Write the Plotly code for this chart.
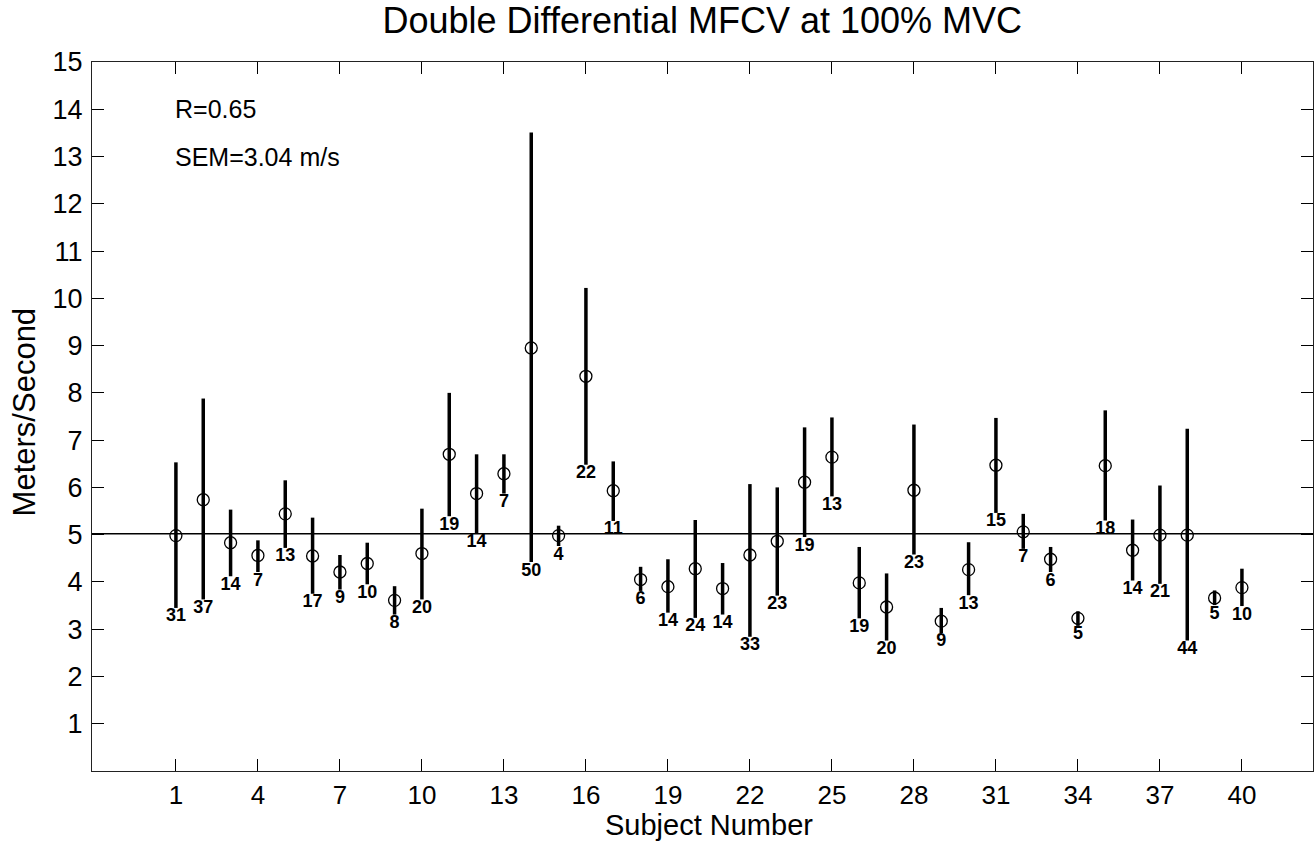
import numpy as np
import plotly.graph_objects as go

# ---------------- data ----------------
subjects = list(range(1, 41))
mean_mfcv = [4.98, 5.74, 4.83, 4.56, 5.44, 4.55, 4.21, 4.39, 3.61, 4.60,
             6.70, 5.87, 6.29, 8.95, 4.98, 8.35, 5.93, 4.05, 3.90, 4.28,
             3.86, 4.57, 4.86, 6.11, 6.64, 3.98, 3.47, 5.94, 3.17, 4.26,
             6.47, 5.06, 4.48, 3.23, 6.46, 4.67, 4.99, 4.99, 3.66, 3.88]
upper_mfcv = [6.53, 7.88, 5.53, 4.88, 6.15, 5.36, 4.57, 4.83, 3.91, 5.55,
              8.00, 6.70, 6.70, 13.51, 5.19, 10.22, 6.55, 4.32, 4.48, 5.31,
              4.40, 6.07, 6.00, 7.27, 7.48, 4.74, 4.18, 7.33, 3.45, 4.84,
              7.47, 5.44, 4.74, 3.38, 7.63, 5.32, 6.04, 7.24, 3.82, 4.28]
lower_mfcv = [3.45, 3.63, 4.12, 4.21, 4.72, 3.75, 3.84, 3.95, 3.31, 3.63,
              5.39, 5.03, 5.87, 4.42, 4.76, 6.48, 5.29, 3.81, 3.35, 3.24,
              3.31, 2.84, 3.71, 4.95, 5.81, 3.23, 2.76, 4.58, 2.92, 3.72,
              5.46, 4.70, 4.21, 3.07, 5.30, 4.03, 3.96, 2.76, 3.51, 3.49]
n_trials = [31, 37, 14, 7, 13, 17, 9, 10, 8, 20,
            19, 14, 7, 50, 4, 22, 11, 6, 14, 24,
            14, 33, 23, 19, 13, 19, 20, 23, 9, 13,
            15, 7, 6, 5, 18, 14, 21, 44, 5, 10]
overall_mean = 5.02
x_ticks = list(range(1, 41, 3))
y_ticks = list(range(1, 16))
title_text = "Double Differential MFCV at 100% MVC"
x_label = "Subject Number"
y_label = "Meters/Second"
stat_lines = ["R=0.65", "SEM=3.04 m/s"]
stat_y = [14, 13]

# ---------------- figure ----------------
FONT = "Liberation Sans, Arial, Helvetica, sans-serif"
mean_arr = np.array(mean_mfcv)
err_plus = np.array(upper_mfcv) - mean_arr
err_minus = mean_arr - np.array(lower_mfcv)

fig = go.Figure()
fig.add_trace(go.Scatter(
    x=subjects, y=mean_mfcv, mode="markers",
    marker=dict(symbol="circle-open", size=12, color="black",
                line=dict(width=1.3, color="black")),
    error_y=dict(type="data", symmetric=False, array=err_plus,
                 arrayminus=err_minus, color="black", thickness=3.5, width=0),
    showlegend=False, hoverinfo="skip"))

fig.add_trace(go.Scatter(
    x=subjects, y=lower_mfcv, mode="text",
    text=[str(n) for n in n_trials], textposition="bottom center",
    textfont=dict(family=FONT, size=18, color="black", weight="bold"),
    showlegend=False, hoverinfo="skip"))

fig.add_shape(type="line", xref="paper", x0=0, x1=1, yref="y",
              y0=overall_mean, y1=overall_mean,
              line=dict(color="black", width=1.5), layer="below")

for txt, yy in zip(stat_lines, stat_y):
    fig.add_annotation(x=0.9, y=yy, xref="x", yref="y", text=txt,
                       showarrow=False, xanchor="left", yanchor="middle",
                       font=dict(family=FONT, size=25, color="black"))

fig.add_annotation(x=0.505, y=-0.0765, xref="paper", yref="paper",
                   text=x_label, showarrow=False, xanchor="center",
                   yanchor="middle", font=dict(family=FONT, size=29, color="black"))
fig.add_annotation(x=-0.055, y=0.507, xref="paper", yref="paper",
                   text=y_label, showarrow=False, textangle=-90,
                   xanchor="center", yanchor="middle",
                   font=dict(family=FONT, size=31, color="black"))

fig.update_layout(
    width=1314, height=847,
    margin=dict(l=92, r=1, t=62, b=76),
    paper_bgcolor="white", plot_bgcolor="white",
    title=dict(text=title_text, x=0.5345, xref="container", xanchor="center",
               y=1 - 20 / 847, yref="container", yanchor="middle",
               font=dict(family=FONT, size=36, color="black")),
    font=dict(family=FONT, color="black"),
    xaxis=dict(range=[-2.07, 42.6], tickvals=x_ticks,
               ticktext=[str(t) for t in x_ticks],
               ticks="inside", ticklen=12, tickwidth=1.2, tickcolor="black",
               showline=True, linecolor="#222", linewidth=1.3, mirror="ticks",
               showgrid=False, zeroline=False,
               tickfont=dict(family=FONT, size=26, color="black"),
               ticklabelstandoff=1),
    yaxis=dict(range=[0, 15], tickvals=y_ticks,
               ticktext=[str(t) for t in y_ticks],
               ticks="inside", ticklen=12, tickwidth=1.2, tickcolor="black",
               showline=True, linecolor="#222", linewidth=1.3, mirror="ticks",
               showgrid=False, zeroline=False,
               tickfont=dict(family=FONT, size=27, color="black"),
               ticklabelstandoff=3),
)

fig.write_html("out.html", config={"displayModeBar": False},
               post_script="document.body.style.margin='0';document.body.style.padding='0';")
